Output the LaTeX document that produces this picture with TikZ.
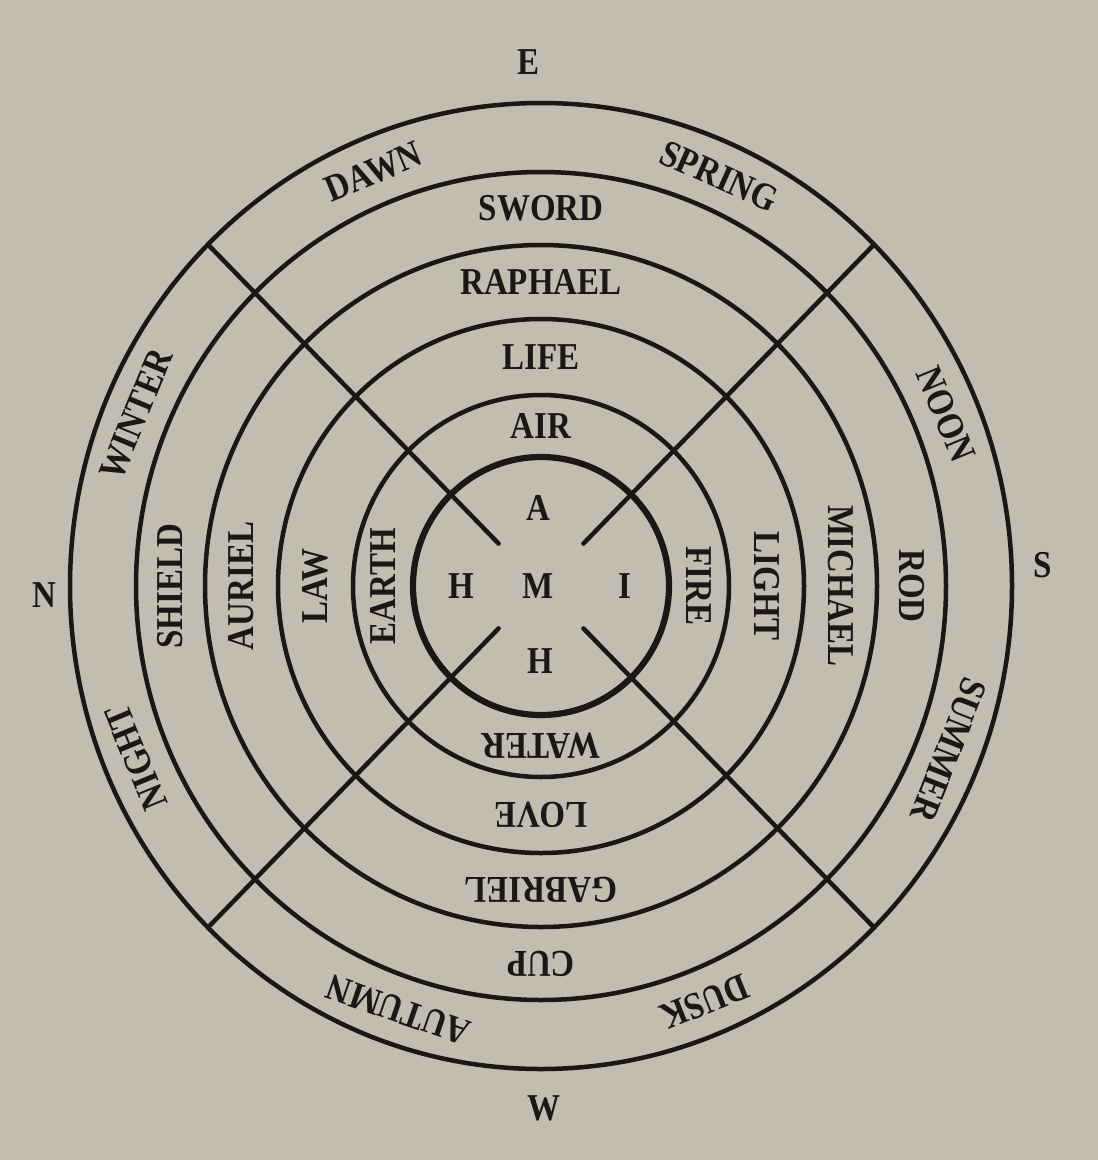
\documentclass[tikz,border=0pt]{standalone}
\usepackage{fontspec}
\setmainfont{Liberation Serif}
\newfontfamily\lblfont{Liberation Serif Bold}
\usetikzlibrary{calc}
\definecolor{paper}{HTML}{C2BCB1}
\definecolor{ink}{HTML}{1A1715}
\begin{document}
\begin{tikzpicture}[x=1pt,y=1pt,
  ring/.style={draw=ink, line width=4.5pt},
  core/.style={draw=ink, line width=6.2pt},
  spoke/.style={draw=ink, line width=4.5pt, line cap=round},
  lbl/.style={text=ink, font=\lblfont\fontsize{33}{33}\selectfont, inner sep=0pt},
  ]
\fill[paper] (0,0) rectangle (1098,-1160);
\useasboundingbox (0,0) rectangle (1098,-1160);
\coordinate (C) at (541,-586);
% circles
\draw[core] (C) ellipse [x radius=128, y radius=129];
\draw[ring] (C) ellipse [x radius=188, y radius=191];
\draw[ring] (C) ellipse [x radius=263, y radius=267];
\draw[ring] (C) ellipse [x radius=336, y radius=341];
\draw[ring] (C) ellipse [x radius=405, y radius=414];
\draw[ring] (C) ellipse [x radius=471, y radius=483];
% spokes
\foreach \a/\n in {45/ne,135/nw,225/sw,315/se}{
  \coordinate (in\n) at ([shift={(\a:60)}]C);
  \coordinate (out\n) at ([shift={(\a:471 and 483)}]C);
  \draw[spoke] (in\n) -- (out\n);
}
% ring texts
\foreach \a/\t [count=\i] in {90/AIR,0/FIRE,270/WATER,180/EARTH}
  \node[lbl, rotate=\a-90, yscale=1.15] (el\i) at ([shift={(\a:158 and 160)}]C) {\t};
\foreach \a/\t [count=\i] in {90/LIFE,0/LIGHT,270/LOVE,180/LAW}
  \node[lbl, rotate=\a-90, yscale=1.15] (vi\i) at ([shift={(\a:225.5 and 229)}]C) {\t};
\foreach \a/\t [count=\i] in {90/RAPHAEL,0/MICHAEL,270/GABRIEL,180/AURIEL}
  \node[lbl, rotate=\a-90, yscale=1.15] (an\i) at ([shift={(\a:299.5 and 304)}]C) {\t};
\foreach \a/\t [count=\i] in {90/SWORD,0/ROD,270/CUP,180/SHIELD}
  \node[lbl, rotate=\a-90, yscale=1.15] (wp\i) at ([shift={(\a:370.5 and 377.5)}]C) {\t};
\foreach \a/\t [count=\i] in {112.5/DAWN,66/SPRING,22.5/NOON,-21.5/SUMMER,-68/DUSK,-109/AUTUMN,202.5/NIGHT,157.5/WINTER}
  \node[lbl, rotate=\a-90, yscale=1.15] (tm\i) at ([shift={(\a:438 and 448.5)}]C) {\t};
% centre letters
\node[lbl, yscale=1.15] (la) at ([shift={(-3,78)}]C) {A};
\node[lbl, yscale=1.15] (lh) at ([shift={(-80,0)}]C) {H};
\node[lbl, yscale=1.15] (lm) at ([shift={(-3,0)}]C) {M};
\node[lbl, yscale=1.15] (li) at ([shift={(84,0)}]C) {I};
\node[lbl, yscale=1.15] (lb) at ([shift={(-1,-75)}]C) {H};
% compass
\node[lbl, yscale=1.15] (cE) at (529,-62) {E};
\node[lbl, yscale=1.15] (cS) at (1043,-565) {S};
\node[lbl, yscale=1.15] (cW) at (544,-1108) {W};
\node[lbl, yscale=1.15] (cN) at (44,-595) {N};
\end{tikzpicture}
\end{document}
